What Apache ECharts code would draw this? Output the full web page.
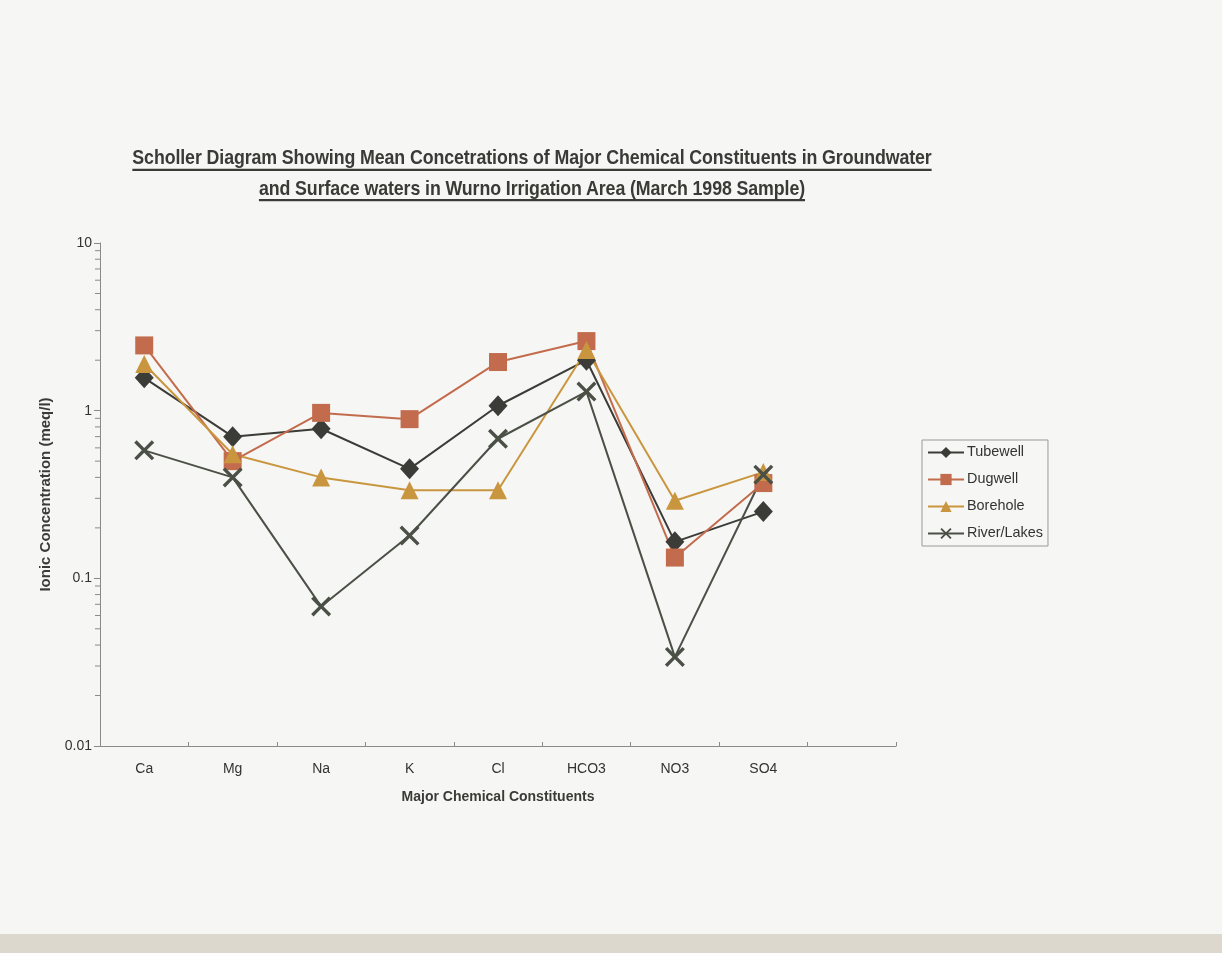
<!DOCTYPE html>
<html>
<head>
<meta charset="utf-8">
<script src="https://cdn.jsdelivr.net/npm/echarts@6/dist/echarts.min.js"></script>
<style>
  html, body { margin: 0; padding: 0; width: 1222px; height: 953px; overflow: hidden; background: #f6f6f4; }
  #chart { position: absolute; left: 0; top: 0; width: 1222px; height: 953px; }
  #title {
    position: absolute; left: 82px; top: 143px; width: 900px;
    text-align: center; font-family: "Liberation Sans", Arial, sans-serif;
    font-weight: bold; font-size: 17.8px; line-height: 27px; color: #3a3a36;
    letter-spacing: -0.1px; text-decoration: underline; text-decoration-thickness: 2px;
    text-underline-offset: 4px; transform: scaleY(1.12); transform-origin: 50% 0;
  }
  #edge { position: absolute; left: 0; top: 934px; width: 1222px; height: 19px; background: #ddd8ce; }
</style>
</head>
<body>
<div id="chart"></div>
<div id="title">Scholler Diagram Showing Mean Concetrations of Major Chemical Constituents in Groundwater<br>and Surface waters in Wurno Irrigation Area (March 1998 Sample)</div>
<div id="edge"></div>
<script>
// Major ions (meq/l); the ninth slot on the axis is left empty
const constituents = ['Ca', 'Mg', 'Na', 'K', 'Cl', 'HCO3', 'NO3', 'SO4', ''];

const tubewell   = [1.57, 0.70, 0.78, 0.45, 1.07, 2.00, 0.165, 0.25];
const dugwell    = [2.45, 0.50, 0.97, 0.89, 1.95, 2.60, 0.133, 0.37];
const borehole   = [1.90, 0.55, 0.40, 0.335, 0.335, 2.30, 0.29, 0.43];
const riverLakes = [0.58, 0.40, 0.068, 0.18, 0.68, 1.30, 0.034, 0.415];

// Intermediate tick values on the logarithmic axis
const minorTicks = [0.02, 0.03, 0.04, 0.05, 0.06, 0.07, 0.08, 0.09,
                    0.2, 0.3, 0.4, 0.5, 0.6, 0.7, 0.8, 0.9,
                    2, 3, 4, 5, 6, 7, 8, 9];

const FONT = '"Liberation Sans", Arial, sans-serif';
const crossPath = 'path://M0,1.2 L1.2,0 L5,3.8 L8.8,0 L10,1.2 L6.2,5 L10,8.8 L8.8,10 L5,6.2 L1.2,10 L0,8.8 L3.8,5 Z';

function lineSeries(name, data, color, symbol, size) {
  return {
    name: name,
    type: 'line',
    data: data,
    symbol: symbol,
    symbolSize: size,
    showAllSymbol: true,
    z: 3,
    lineStyle: { color: color, width: 2 },
    itemStyle: { color: color, opacity: 1 },
    emphasis: { disabled: true }
  };
}

const chart = echarts.init(document.getElementById('chart'), null, { renderer: 'canvas' });
chart.setOption({
  animation: false,
  backgroundColor: 'transparent',
  grid: { left: 100, top: 243, width: 796, height: 503, containLabel: false },
  legend: {
    orient: 'vertical',
    left: 922, top: 440,
    padding: [4, 5, 4, 5],
    itemGap: 10,
    itemWidth: 36,
    itemHeight: 14,
    borderColor: '#9a9a96',
    borderWidth: 1,
    textStyle: { fontFamily: FONT, fontSize: 14.4, lineHeight: 17, color: '#333', padding: [0, 0, 0, -2] },
    data: ['Tubewell', 'Dugwell', 'Borehole', 'River/Lakes']
  },
  xAxis: {
    type: 'category',
    data: constituents,
    boundaryGap: true,
    name: 'Major Chemical Constituents',
    nameLocation: 'middle',
    nameGap: 44,
    nameTextStyle: { fontFamily: FONT, fontSize: 14, fontWeight: 'bold', color: '#3a3a36' },
    axisLine: { lineStyle: { color: '#8a8a86', width: 1 } },
    axisTick: { show: true, inside: true, length: 4, interval: 0, lineStyle: { color: '#8a8a86' } },
    axisLabel: { interval: 0, margin: 16, fontFamily: FONT, fontSize: 14, color: '#333' },
    splitLine: { show: false }
  },
  yAxis: {
    type: 'log',
    logBase: 10,
    min: 0.01,
    max: 10,
    name: 'Ionic Concentration (meq/l)',
    nameLocation: 'middle',
    nameGap: 42,
    nameTextStyle: { fontFamily: FONT, fontSize: 15, fontWeight: 'bold', color: '#3a3a36' },
    axisLine: { show: true, lineStyle: { color: '#8a8a86', width: 1 } },
    axisTick: { show: true, length: 6, lineStyle: { color: '#8a8a86' } },
    axisLabel: {
      margin: 8, fontFamily: FONT, fontSize: 14, color: '#333',
      formatter: function (v) { return String(+v.toPrecision(3)); }
    },
    splitLine: { show: false }
  },
  series: [
    {
      type: 'custom',
      name: 'minor ticks',
      silent: true,
      z: 1,
      data: minorTicks.map(function (v) { return [0, v]; }),
      renderItem: function (params, api) {
        const y = api.coord([0, api.value(1)])[1];
        const x = params.coordSys.x;
        return {
          type: 'line',
          shape: { x1: x - 5, y1: y, x2: x, y2: y },
          style: { stroke: '#8a8a86', lineWidth: 1 }
        };
      }
    },
    lineSeries('Tubewell', tubewell, '#3b3b37', 'diamond', [19, 21]),
    lineSeries('Dugwell', dugwell, '#c36c4d', 'rect', 18),
    lineSeries('Borehole', borehole, '#c9963f', 'triangle', 18),
    lineSeries('River/Lakes', riverLakes, '#4b5046', crossPath, 20)
  ]
});
</script>
</body>
</html>
